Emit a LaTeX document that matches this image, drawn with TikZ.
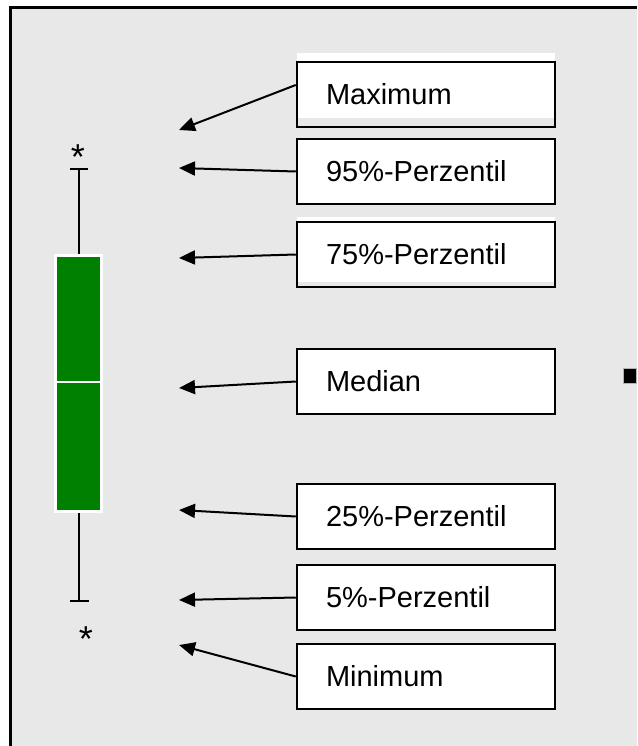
\documentclass[tikz,border=0pt]{standalone}
\usepackage{fontspec}
\setmainfont{Liberation Sans}
\usetikzlibrary{arrows.meta}

\begin{document}
\begin{tikzpicture}[x=1pt, y=-1pt, every node/.style={font=\fontsize{29}{32}\selectfont}]

    % Define styles
    \tikzstyle{labelbox} = [rectangle, minimum width=258pt, minimum height=65pt, inner xsep=29pt, text width=200pt, align=left, draw=black, line width=2.5pt, fill=white]
    \tikzstyle{arrow} = [line width=2pt, -{Triangle[length=16pt, width=14pt]}]
    \tikzstyle{whisker} = [line width=2.2pt]
    \tikzstyle{outlier} = [anchor=base, inner sep=0pt, font=\fontsize{36}{36}\selectfont]

    % Background
    \useasboundingbox (0,0) rectangle (637,746);
    \fill[gray!18] (10,8) rectangle (637,746);
    \draw[line width=3pt] (10,746) -- (10,8) -- (637,8);

    % Box plot
    \draw[whisker] (79,169) -- (79,255);
    \draw[whisker] (70,169) -- (88,169);
    \draw[whisker] (79,511) -- (79,601);
    \draw[whisker] (70,601) -- (89,601);
    \draw[fill=green!50!black, draw=white, line width=3pt] (55.5,255) rectangle (101,511.5);
    \draw[white, line width=2pt] (55.5,382) -- (101,382);
    \node (startop) [outlier] at (78,170) {*};
    \node (starbot) [outlier] at (86,651) {*};

    % Place nodes
    \fill[white] (297,53) rectangle (555,118);
    \fill[white] (297,217) rectangle (555,282);
    \node (max) [labelbox, fill=none] at (426,94.5) {Maximum};
    \node (p95) [labelbox] at (426,171.5) {95\%-Perzentil};
    \node (p75) [labelbox, fill=none] at (426,254.5) {75\%-Perzentil};
    \node (med) [labelbox] at (426,381.5) {Median};
    \node (p25) [labelbox] at (426,516.5) {25\%-Perzentil};
    \node (p5) [labelbox] at (426,597.5) {5\%-Perzentil};
    \node (min) [labelbox] at (426,676.5) {Minimum};
    \fill[black, draw=gray!60, line width=1pt] (623,368) rectangle (636,383);

    % Arrow tips
    \coordinate (tmax) at (179,130);
    \coordinate (t95) at (179,168);
    \coordinate (t75) at (179,258);
    \coordinate (tmed) at (179,388);
    \coordinate (t25) at (179,510);
    \coordinate (t5) at (179,600);
    \coordinate (tmin) at (179,645);

    % Draw arrows
    \draw [arrow] ([yshift=9.5pt]max.west) -- (tmax);
    \draw [arrow] (p95.west) -- (t95);
    \draw [arrow] (p75.west) -- (t75);
    \draw [arrow] (med.west) -- (tmed);
    \draw [arrow] (p25.west) -- (t25);
    \draw [arrow] (p5.west) -- (t5);
    \draw [arrow] (min.west) -- (tmin);

\end{tikzpicture}
\end{document}
